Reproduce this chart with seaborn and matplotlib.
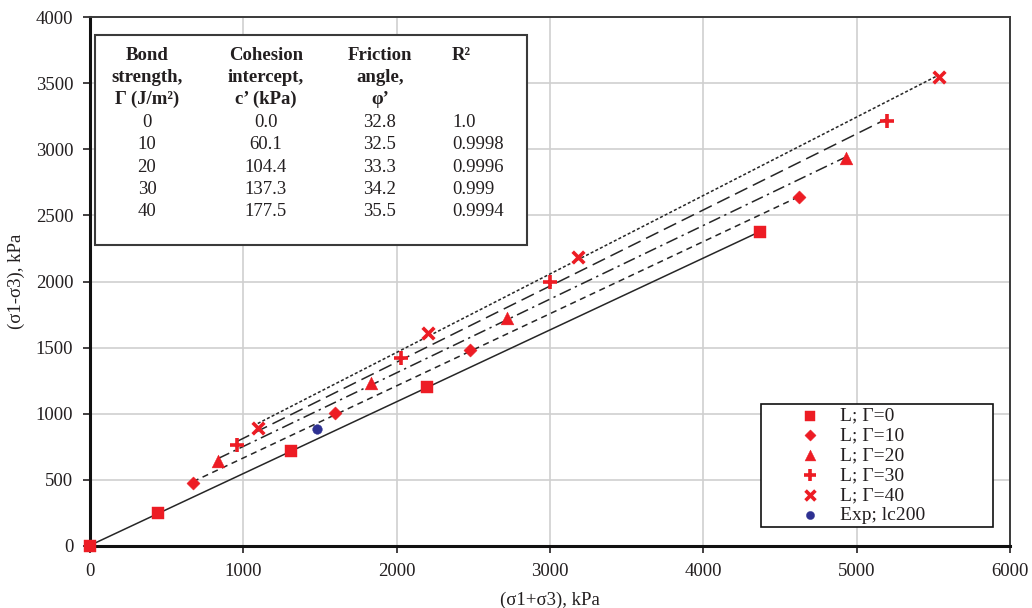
import numpy as np
import pandas as pd
import matplotlib
matplotlib.use("Agg")
import matplotlib.pyplot as plt
import matplotlib.patches as mpatches
import seaborn as sns

# ---------------- data ----------------
g0_x = [0, 443, 1310, 2195, 4372]
g0_y = [0, 247, 719, 1199, 2377]
g10_x = [671, 1596, 2476, 4625]
g10_y = [473, 1002, 1480, 2636]
g20_x = [836, 1831, 2717, 4931]
g20_y = [642, 1229, 1727, 2931]
g30_x = [958, 2025, 2997, 5199]
g30_y = [760, 1422, 1997, 3211]
g40_x = [1094, 2203, 3181, 5537]
g40_y = [894, 1612, 2186, 3545]
exp_x = [1479]
exp_y = [887]

series_labels = ["L; Γ=0", "L; Γ=10", "L; Γ=20", "L; Γ=30", "L; Γ=40", "Exp; lc200"]

x_ticks = [0, 1000, 2000, 3000, 4000, 5000, 6000]
y_ticks = [0, 500, 1000, 1500, 2000, 2500, 3000, 3500, 4000]
x_label = "(σ1+σ3), kPa"
y_label = "(σ1-σ3), kPa"

# table
table_headers = [["Bond", "strength,", "Γ (J/m²)"],
                 ["Cohesion", "intercept,", "c’ (kPa)"],
                 ["Friction", "angle,", "φ’"],
                 ["R²"]]
bond_strength = ["0", "10", "20", "30", "40"]
cohesion = ["0.0", "60.1", "104.4", "137.3", "177.5"]
friction = ["32.8", "32.5", "33.3", "34.2", "35.5"]
r_squared = ["1.0", "0.9998", "0.9996", "0.999", "0.9994"]

# ---------------- style ----------------
sns.set_theme(style="white")
plt.rcParams["font.family"] = ["Liberation Serif", "DejaVu Serif"]

RED = "#ED1C24"
NAVY = "#2E3192"
LINE = "#262626"
TXT = "#231F20"

W, H = 1032, 608
fig = plt.figure(figsize=(W / 100, H / 100), dpi=100)
ax = fig.add_axes([90 / W, 1 - 546 / H, (1010 - 90) / W, (546 - 17) / H])


def fp(x, y):
    return (x / W, 1 - y / H)


# ---------------- trend lines ----------------
line_styles = ["-", (0, (4, 3)), (0, (8, 3, 1.5, 3)), (0, (9, 4)), (0, (2, 1.4))]
xs_all = [g0_x, g10_x, g20_x, g30_x, g40_x]
ys_all = [g0_y, g10_y, g20_y, g30_y, g40_y]
for xs, ys, ls in zip(xs_all, ys_all, line_styles):
    sns.regplot(x=np.array(xs, float), y=np.array(ys, float), ax=ax, scatter=False,
                ci=None, truncate=True,
                line_kws=dict(color=LINE, lw=1.1, linestyle=ls, zorder=3))

# ---------------- markers ----------------
marker_specs = [
    ("s", 80, 0),
    ("D", 45, 0),
    ("^", 85, 0),
    ("+", 95, 2.6),
    ("x", 70, 2.6),
]
for xs, ys, (mk, sz, lw), lab in zip(xs_all, ys_all, marker_specs, series_labels[:5]):
    if lw == 0:
        sns.scatterplot(x=xs, y=ys, ax=ax, marker=mk, s=sz, color=RED,
                        edgecolor=RED, linewidth=0.3, label=lab, zorder=5,
                        clip_on=False, legend=False)
    else:
        sns.scatterplot(x=xs, y=ys, ax=ax, marker=mk, s=sz, color=RED,
                        linewidth=lw, label=lab, zorder=5, clip_on=False,
                        legend=False)
sns.scatterplot(x=exp_x, y=exp_y, ax=ax, marker="o", s=48, color=NAVY,
                edgecolor=NAVY, linewidth=0.3, label=series_labels[5], zorder=5,
                legend=False)

if ax.get_legend() is not None:
    ax.get_legend().remove()

# ---------------- axes ----------------
ax.set_xlim(0, 6000)
ax.set_ylim(0, 4000)
ax.set_xticks(x_ticks)
ax.set_yticks(y_ticks)
ax.set_xticklabels([str(v) for v in x_ticks])
ax.set_yticklabels([str(v) for v in y_ticks])
ax.grid(True, color="#CFCFCF", lw=1.2)
ax.set_axisbelow(True)
ax.tick_params(axis="both", direction="out", length=5, width=1.2, colors=TXT,
               labelsize=13.5, left=True, bottom=True)
ax.tick_params(axis="x", pad=7)
ax.tick_params(axis="y", pad=7)
for side in ["left", "bottom"]:
    ax.spines[side].set_color("#111111")
    ax.spines[side].set_linewidth(2.2)
for side in ["top", "right"]:
    ax.spines[side].set_color("#3A3A3A")
    ax.spines[side].set_linewidth(1.4)
ax.set_xlabel(x_label, fontsize=13.5, color=TXT, labelpad=9)
ax.set_ylabel(y_label, fontsize=13.5, color=TXT, labelpad=8)

# ---------------- table box ----------------
x0, y0 = fp(95, 245)
x1, y1 = fp(527, 35)
fig.add_artist(mpatches.Rectangle((x0, y0), x1 - x0, y1 - y0, transform=fig.transFigure,
                                  facecolor="white", edgecolor="#3A3A3A", lw=1.5, zorder=2))
col_x = [147, 266, 380, 452]
col_ha = ["center", "center", "center", "left"]
row_y = [55 + 22.4 * i for i in range(8)]
for ci, hdr in enumerate(table_headers):
    for ri, line in enumerate(hdr):
        fig.text(*fp(col_x[ci], row_y[ri]), line, ha=col_ha[ci], va="center",
                 fontsize=13.5, fontweight="bold", color=TXT, zorder=4)
for ci, col in enumerate([bond_strength, cohesion, friction, r_squared]):
    for ri, val in enumerate(col):
        fig.text(*fp(col_x[ci], row_y[3 + ri]), val, ha=col_ha[ci], va="center",
                 fontsize=13.5, color=TXT, zorder=4)

# ---------------- legend ----------------
lx0, ly0 = fp(761, 527)
lx1, ly1 = fp(993, 404)
fig.add_artist(mpatches.Rectangle((lx0, ly0), lx1 - lx0, ly1 - ly0, transform=fig.transFigure,
                                  facecolor="white", edgecolor="#111111", lw=1.2, zorder=2))
handles, labels = ax.get_legend_handles_labels()
fs_leg = 14
px_per_em = fs_leg * 100 / 72
hl_px = 1.6 * px_per_em
start_x = 810 - hl_px / 2
pad_px = 840 - (start_x + hl_px)
leg = fig.legend(handles, labels, loc="upper left",
                 bbox_to_anchor=fp(start_x, 407), bbox_transform=fig.transFigure,
                 frameon=False, fontsize=fs_leg, borderpad=0, borderaxespad=0,
                 handlelength=1.6, handletextpad=pad_px / px_per_em,
                 labelspacing=0.12, scatterpoints=1, markerscale=0.85)
for t in leg.get_texts():
    t.set_color(TXT)

fig.savefig("out.png", dpi=100)
